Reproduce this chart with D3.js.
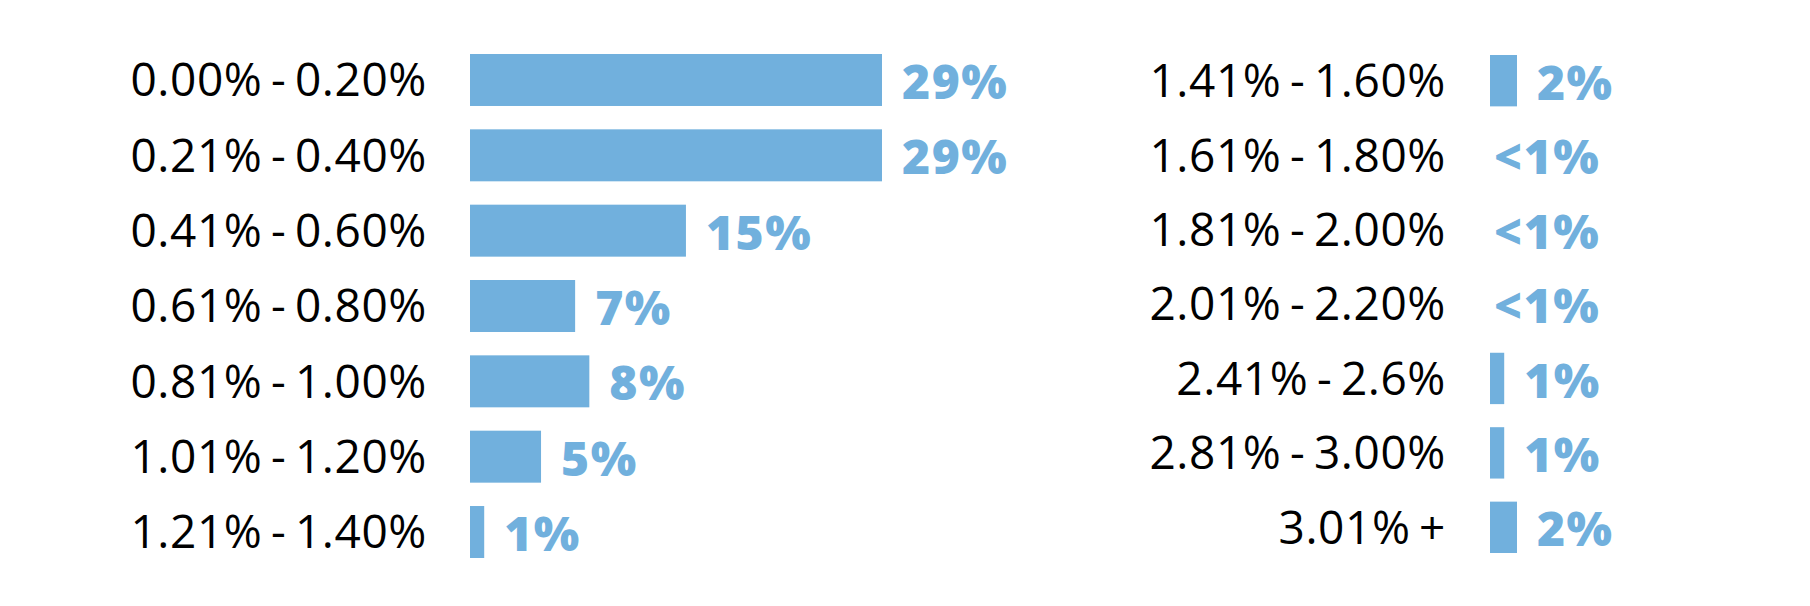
<!DOCTYPE html>
<html>
<head>
<meta charset="utf-8">
<script src="https://cdn.jsdelivr.net/npm/d3@7"></script>
<style>
  html, body { margin: 0; padding: 0; background: #ffffff; }
  svg { display: block; }
</style>
</head>
<body>
<svg id="chart" width="1810" height="606"></svg>
<script>
// ---- Data ----
const leftCategories = ["0.00% - 0.20%", "0.21% - 0.40%", "0.41% - 0.60%", "0.61% - 0.80%", "0.81% - 1.00%", "1.01% - 1.20%", "1.21% - 1.40%"];
const leftValues = [29, 29, 15.2, 7.4, 8.4, 5.0, 1.0];
const leftLabels = ["29%", "29%", "15%", "7%", "8%", "5%", "1%"];

const rightCategories = ["1.41% - 1.60%", "1.61% - 1.80%", "1.81% - 2.00%", "2.01% - 2.20%", "2.41% - 2.6%", "2.81% - 3.00%", "3.01% +"];
const rightValues = [1.9, 0, 0, 0, 1.0, 1.0, 1.9];
const rightLabels = ["2%", "<1%", "<1%", "<1%", "1%", "1%", "2%"];

// ---- Styles ----
const barColor = "#71b0dd";
const catFont = "'Open Sans', sans-serif";
const catSize = 46;
const valFont = "'Open Sans', sans-serif";
const valSize = 48;

const svg = d3.select("#chart");

const x = d3.scaleLinear().domain([0, 29]).range([0, 412]);

function panel(cfg) {
  const y = d3.scaleBand()
    .domain(cfg.categories)
    .range(cfg.yRange)
    .paddingInner(0.31)
    .paddingOuter(0);

  const g = svg.append("g");
  const rows = cfg.categories.map((c, i) => ({ cat: c, v: cfg.values[i], lab: cfg.labels[i] }));

  // category labels
  g.selectAll("text.cat").data(rows).join("text")
    .attr("class", "cat")
    .attr("x", cfg.labelRight)
    .attr("y", d => y(d.cat) + y.bandwidth() / 2 + 0.357 * catSize)
    .attr("text-anchor", "end")
    .style("font-family", catFont)
    .style("font-size", catSize + "px")
    .style("font-weight", 400)
    .style("letter-spacing", "0.6px")
    .style("word-spacing", "-4px")
    .attr("fill", "#000")
    .text(d => d.cat);

  // bars
  g.selectAll("rect.bar").data(rows.filter(d => d.v > 0)).join("rect")
    .attr("class", "bar")
    .attr("x", cfg.barLeft)
    .attr("y", d => y(d.cat))
    .attr("width", d => x(d.v))
    .attr("height", y.bandwidth())
    .attr("fill", barColor);

  // value labels
  g.selectAll("text.val").data(rows).join("text")
    .attr("class", "val")
    .attr("x", d => cfg.barLeft + (d.v > 0 ? x(d.v) + 20 : 4))
    .attr("y", d => y(d.cat) + y.bandwidth() / 2 + 0.357 * valSize + 2)
    .style("font-family", valFont)
    .style("font-size", valSize + "px")
    .style("font-weight", 800)
    .style("letter-spacing", "1.5px")
    .attr("fill", barColor)
    .text(d => d.lab);
}

panel({
  categories: leftCategories, values: leftValues, labels: leftLabels,
  yRange: [54, 558], barLeft: 470, labelRight: 427
});

panel({
  categories: rightCategories, values: rightValues, labels: rightLabels,
  yRange: [55, 553], barLeft: 1490, labelRight: 1446
});
</script>
</body>
</html>
